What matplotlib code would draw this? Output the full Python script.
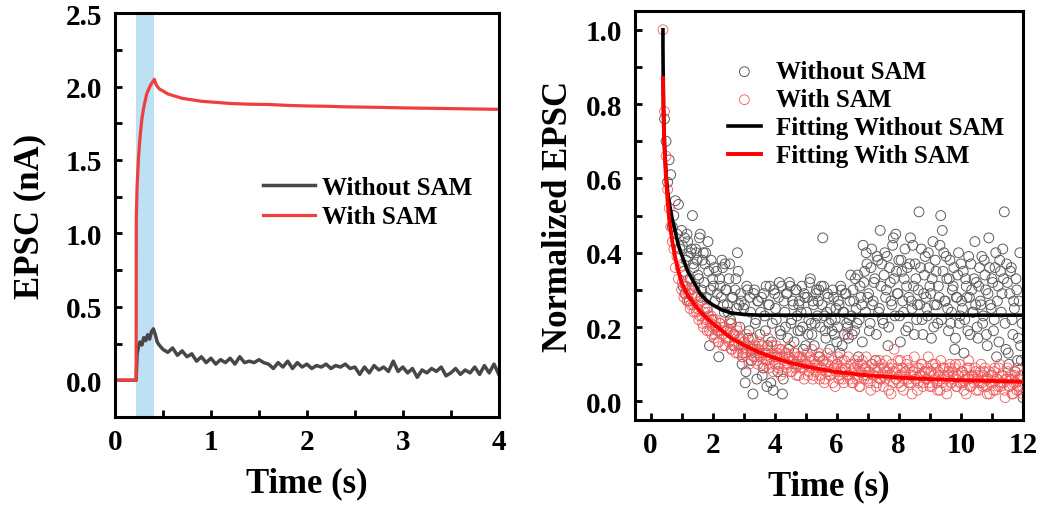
import numpy as np
import matplotlib
matplotlib.use("Agg")
import matplotlib.pyplot as plt
from matplotlib.ticker import MultipleLocator, FormatStrFormatter

plt.rcParams['font.family'] = ['Liberation Serif', 'DejaVu Serif']
plt.rcParams['font.weight'] = 'bold'

# ---- left panel: EPSC traces ----
red_t = [0.00, 0.22, 0.222, 0.23, 0.245, 0.26, 0.28, 0.30, 0.33, 0.37, 0.41, 0.43, 0.46,
         0.50, 0.55, 0.60, 0.70, 0.80, 0.90, 1.00, 1.20, 1.40, 1.60, 1.80, 2.00, 2.20,
         2.40, 2.60, 2.80, 3.00, 3.20, 3.40, 3.60, 3.80, 4.00]
red_v = [0.00, 0.00, 1.10, 1.32, 1.52, 1.65, 1.78, 1.86, 1.95, 2.01, 2.05, 2.01, 1.985,
         1.97, 1.95, 1.94, 1.92, 1.91, 1.90, 1.895, 1.885, 1.88, 1.878, 1.872, 1.868, 1.866,
         1.862, 1.860, 1.858, 1.855, 1.853, 1.851, 1.849, 1.847, 1.845]

gray_t = [0.00, 0.22, 0.23, 0.245, 0.26, 0.28, 0.30, 0.32, 0.34, 0.36, 0.38, 0.40, 0.42, 0.44, 0.46,
          0.50, 0.55, 0.60, 0.65, 0.70, 0.75, 0.80, 0.85, 0.90, 0.95,
          1.00, 1.05, 1.10, 1.15, 1.20, 1.25, 1.30, 1.35, 1.40, 1.45,
          1.50, 1.55, 1.60, 1.65, 1.70, 1.75, 1.80, 1.85, 1.90, 1.95,
          2.00, 2.05, 2.10, 2.15, 2.20, 2.25, 2.30, 2.35, 2.40, 2.45,
          2.50, 2.55, 2.60, 2.65, 2.70, 2.75, 2.80, 2.85, 2.90, 2.95,
          3.00, 3.05, 3.10, 3.15, 3.20, 3.25, 3.30, 3.35, 3.40, 3.45,
          3.50, 3.55, 3.60, 3.65, 3.70, 3.75, 3.80, 3.85, 3.90, 3.95, 4.00]
gray_v = [0.00, 0.00, 0.18, 0.23, 0.26, 0.24, 0.29, 0.27, 0.31, 0.28, 0.33, 0.35, 0.31, 0.26, 0.24,
          0.21, 0.19, 0.22, 0.17, 0.20, 0.16, 0.18, 0.13, 0.16, 0.12,
          0.15, 0.11, 0.14, 0.12, 0.15, 0.11, 0.16, 0.12, 0.13, 0.12,
          0.14, 0.12, 0.11, 0.08, 0.12, 0.09, 0.13, 0.08, 0.12, 0.09,
          0.11, 0.08, 0.10, 0.09, 0.11, 0.08, 0.10, 0.09, 0.11, 0.08,
          0.09, 0.04, 0.09, 0.05, 0.10, 0.07, 0.09, 0.06, 0.13, 0.06,
          0.09, 0.05, 0.08, 0.02, 0.07, 0.05, 0.08, 0.06, 0.09, 0.03,
          0.05, 0.08, 0.04, 0.07, 0.05, 0.09, 0.04, 0.10, 0.05, 0.11, 0.04]

pulse = (0.22, 0.41)

# ---- right panel: normalized EPSC ----
t_norm = [
    0.40, 0.45, 0.50, 0.55, 0.60, 0.65, 0.70, 0.75, 0.80, 0.85,
    0.90, 0.95, 1.00, 1.05, 1.10, 1.15, 1.20, 1.25, 1.30, 1.35,
    1.40, 1.45, 1.50, 1.55, 1.60, 1.65, 1.70, 1.75, 1.80, 1.85,
    1.90, 1.95, 2.00, 2.05, 2.10, 2.15, 2.20, 2.25, 2.30, 2.35,
    2.40, 2.45, 2.50, 2.55, 2.60, 2.65, 2.70, 2.75, 2.80, 2.85,
    2.90, 2.95, 3.00, 3.05, 3.10, 3.15, 3.20, 3.25, 3.30, 3.35,
    3.40, 3.45, 3.50, 3.55, 3.60, 3.65, 3.70, 3.75, 3.80, 3.85,
    3.90, 3.95, 4.00, 4.05, 4.10, 4.15, 4.20, 4.25, 4.30, 4.35,
    4.40, 4.45, 4.50, 4.55, 4.60, 4.65, 4.70, 4.75, 4.80, 4.85,
    4.90, 4.95, 5.00, 5.05, 5.10, 5.15, 5.20, 5.25, 5.30, 5.35,
    5.40, 5.45, 5.50, 5.55, 5.60, 5.65, 5.70, 5.75, 5.80, 5.85,
    5.90, 5.95, 6.00, 6.05, 6.10, 6.15, 6.20, 6.25, 6.30, 6.35,
    6.40, 6.45, 6.50, 6.55, 6.60, 6.65, 6.70, 6.75, 6.80, 6.85,
    6.90, 6.95, 7.00, 7.05, 7.10, 7.15, 7.20, 7.25, 7.30, 7.35,
    7.40, 7.45, 7.50, 7.55, 7.60, 7.65, 7.70, 7.75, 7.80, 7.85,
    7.90, 7.95, 8.00, 8.05, 8.10, 8.15, 8.20, 8.25, 8.30, 8.35,
    8.40, 8.45, 8.50, 8.55, 8.60, 8.65, 8.70, 8.75, 8.80, 8.85,
    8.90, 8.95, 9.00, 9.05, 9.10, 9.15, 9.20, 9.25, 9.30, 9.35,
    9.40, 9.45, 9.50, 9.55, 9.60, 9.65, 9.70, 9.75, 9.80, 9.85,
    9.90, 9.95, 10.00, 10.05, 10.10, 10.15, 10.20, 10.25, 10.30, 10.35,
    10.40, 10.45, 10.50, 10.55, 10.60, 10.65, 10.70, 10.75, 10.80, 10.85,
    10.90, 10.95, 11.00, 11.05, 11.10, 11.15, 11.20, 11.25, 11.30, 11.35,
    11.40, 11.45, 11.50, 11.55, 11.60, 11.65, 11.70, 11.75, 11.80, 11.85,
    11.90, 11.95, 12.00]

without_sam = [
    np.nan, 0.76, 0.70, 0.59, 0.65, 0.61, 0.47, 0.50, 0.54, 0.45,
    0.53, 0.41, 0.46, 0.31, 0.44, 0.38, 0.43, 0.27, 0.40, 0.50,
    0.36, 0.41, 0.38, 0.33, 0.45, 0.30, 0.40, 0.37, 0.28, 0.43,
    0.15, 0.38, 0.33, 0.36, 0.20, 0.29, 0.12, 0.31, 0.38, 0.26,
    0.37, 0.30, 0.24, 0.37, 0.21, 0.28, 0.18, 0.33, 0.40, 0.26,
    0.29, 0.10, 0.25, 0.05, 0.31, 0.17, 0.28, 0.11, 0.02, 0.30,
    0.22, 0.27, 0.13, 0.24, 0.07, 0.29, 0.19, 0.04, 0.26, 0.31,
    0.16, 0.03, 0.29, 0.22, 0.08, 0.32, 0.18, 0.02, 0.27, 0.20,
    0.29, 0.14, 0.31, 0.22, 0.26, 0.10, 0.30, 0.19, 0.27, 0.24,
    0.20, 0.29, 0.15, 0.28, 0.22, 0.33, 0.18, 0.26, 0.21, 0.30,
    0.27, 0.12, 0.31, 0.44, 0.23, 0.17, 0.29, 0.21, 0.25, 0.19,
    0.28, 0.22, 0.16, 0.27, 0.13, 0.30, 0.24, 0.18, 0.29, 0.20,
    0.22, 0.34, 0.18, 0.27, 0.33, 0.21, 0.12, 0.31, 0.26, 0.42,
    0.35, 0.40, 0.28, 0.19, 0.36, 0.26, 0.32, 0.11, 0.39, 0.24,
    0.46, 0.37, 0.21, 0.40, 0.30, 0.15, 0.36, 0.27, 0.42, 0.33,
    0.45, 0.29, 0.38, 0.16, 0.35, 0.24, 0.41, 0.31, 0.20, 0.37,
    0.27, 0.42, 0.18, 0.33, 0.26, 0.51, 0.36, 0.22, 0.29, 0.39,
    0.25, 0.40, 0.31, 0.17, 0.43, 0.26, 0.35, 0.21, 0.28, 0.50,
    0.46, 0.40, 0.27, 0.33, 0.19, 0.38, 0.24, 0.31, 0.14, 0.28,
    0.34, 0.21, 0.37, 0.25, 0.13, 0.33, 0.28, 0.39, 0.18, 0.30,
    0.24, 0.43, 0.32, 0.17, 0.36, 0.26, 0.21, 0.38, 0.30, 0.15,
    0.44, 0.26, 0.33, 0.19, 0.36, 0.12, 0.31, 0.38, 0.24, 0.41,
    0.51, 0.14, 0.32, 0.10, 0.35, 0.22, 0.27, 0.08, 0.30, 0.17,
    0.40, 0.11, 0.01]

with_sam = [
    1.00, 0.78, 0.66, 0.57, 0.52, 0.47, 0.43, 0.41, 0.36, 0.39,
    0.33, 0.36, 0.30, 0.34, 0.29, 0.31, 0.27, 0.30, 0.26, 0.29,
    0.24, 0.28, 0.25, 0.22, 0.27, 0.23, 0.20, 0.25, 0.21, 0.24,
    0.19, 0.23, 0.20, 0.17, 0.22, 0.19, 0.16, 0.21, 0.18, 0.20,
    0.15, 0.19, 0.17, 0.21, 0.14, 0.18, 0.16, 0.13, 0.19, 0.15,
    0.17, 0.12, 0.16, 0.14, 0.18, 0.11, 0.15, 0.13, 0.17, 0.12,
    0.14, 0.10, 0.16, 0.12, 0.15, 0.09, 0.13, 0.11, 0.17, 0.10,
    0.13, 0.08, 0.12, 0.15, 0.10, 0.14, 0.07, 0.12, 0.10, 0.13,
    0.09, 0.12, 0.15, 0.08, 0.11, 0.13, 0.07, 0.10, 0.12, 0.09,
    0.11, 0.06, 0.10, 0.13, 0.08, 0.11, 0.14, 0.07, 0.10, 0.09,
    0.12, 0.06, 0.09, 0.11, 0.05, 0.10, 0.13, 0.08, 0.07, 0.11,
    0.09, 0.04, 0.10, 0.12, 0.07, 0.09, 0.06, 0.11, 0.08, 0.18,
    0.07, 0.10, 0.05, 0.09, 0.11, 0.06, 0.08, 0.04, 0.10, 0.07,
    0.09, 0.12, 0.06, 0.08, 0.03, 0.10, 0.07, 0.11, 0.05, 0.09,
    0.06, 0.10, 0.04, 0.08, 0.11, 0.07, 0.09, 0.02, 0.08, 0.14,
    0.06, 0.09, 0.05, 0.11, 0.07, 0.03, 0.08, 0.10, 0.06, 0.09,
    0.05, 0.08, 0.12, 0.06, 0.03, 0.09, 0.07, 0.10, 0.05, 0.08,
    0.06, 0.12, 0.04, 0.08, 0.10, 0.06, 0.09, 0.03, 0.07, 0.11,
    0.05, 0.09, 0.06, 0.02, 0.08, 0.10, 0.05, 0.07, 0.09, 0.04,
    0.07, 0.10, 0.05, 0.08, 0.03, 0.06, 0.09, 0.11, 0.04, 0.07,
    0.06, 0.09, 0.03, 0.07, 0.05, 0.10, 0.04, 0.08, 0.06, 0.02,
    0.08, 0.05, 0.07, 0.03, 0.09, 0.06, 0.04, 0.10, 0.05, 0.07,
    0.03, 0.06, 0.09, 0.04, 0.07, 0.02, 0.05, 0.08, 0.03, 0.06,
    0.04, 0.07, 0.02]

# second, interleaved batch of sampled points (1.0 s onward)
t_norm_b = [
    1.025, 1.075, 1.125, 1.175, 1.225, 1.275, 1.325, 1.375, 1.425, 1.475,
    1.525, 1.575, 1.625, 1.675, 1.725, 1.775, 1.825, 1.875, 1.925, 1.975,
    2.025, 2.075, 2.125, 2.175, 2.225, 2.275, 2.325, 2.375, 2.425, 2.475,
    2.525, 2.575, 2.625, 2.675, 2.725, 2.775, 2.825, 2.875, 2.925, 2.975,
    3.025, 3.075, 3.125, 3.175, 3.225, 3.275, 3.325, 3.375, 3.425, 3.475,
    3.525, 3.575, 3.625, 3.675, 3.725, 3.775, 3.825, 3.875, 3.925, 3.975,
    4.025, 4.075, 4.125, 4.175, 4.225, 4.275, 4.325, 4.375, 4.425, 4.475,
    4.525, 4.575, 4.625, 4.675, 4.725, 4.775, 4.825, 4.875, 4.925, 4.975,
    5.025, 5.075, 5.125, 5.175, 5.225, 5.275, 5.325, 5.375, 5.425, 5.475,
    5.525, 5.575, 5.625, 5.675, 5.725, 5.775, 5.825, 5.875, 5.925, 5.975,
    6.025, 6.075, 6.125, 6.175, 6.225, 6.275, 6.325, 6.375, 6.425, 6.475,
    6.525, 6.575, 6.625, 6.675, 6.725, 6.775, 6.825, 6.875, 6.925, 6.975,
    7.025, 7.075, 7.125, 7.175, 7.225, 7.275, 7.325, 7.375, 7.425, 7.475,
    7.525, 7.575, 7.625, 7.675, 7.725, 7.775, 7.825, 7.875, 7.925, 7.975,
    8.025, 8.075, 8.125, 8.175, 8.225, 8.275, 8.325, 8.375, 8.425, 8.475,
    8.525, 8.575, 8.625, 8.675, 8.725, 8.775, 8.825, 8.875, 8.925, 8.975,
    9.025, 9.075, 9.125, 9.175, 9.225, 9.275, 9.325, 9.375, 9.425, 9.475,
    9.525, 9.575, 9.625, 9.675, 9.725, 9.775, 9.825, 9.875, 9.925, 9.975,
    10.025, 10.075, 10.125, 10.175, 10.225, 10.275, 10.325, 10.375, 10.425, 10.475,
    10.525, 10.575, 10.625, 10.675, 10.725, 10.775, 10.825, 10.875, 10.925, 10.975,
    11.025, 11.075, 11.125, 11.175, 11.225, 11.275, 11.325, 11.375, 11.425, 11.475,
    11.525, 11.575, 11.625, 11.675, 11.725, 11.775, 11.825, 11.875, 11.925, 11.975]

without_sam_b = [
    0.42, 0.35, 0.29, 0.45, 0.39, 0.33, 0.41, 0.37, 0.31, 0.40,
    0.34, 0.44, 0.28, 0.38, 0.32, 0.40, 0.25, 0.35, 0.30, 0.22,
    0.31, 0.27, 0.35, 0.19, 0.33, 0.28, 0.36, 0.24, 0.30, 0.26,
    0.33, 0.22, 0.28, 0.15, 0.30, 0.25, 0.35, 0.20, 0.27, 0.13,
    0.26, 0.08, 0.30, 0.19, 0.24, 0.14, 0.29, 0.21, 0.06, 0.27,
    0.18, 0.28, 0.09, 0.23, 0.31, 0.15, 0.26, 0.05, 0.21, 0.30,
    0.25, 0.12, 0.28, 0.19, 0.31, 0.06, 0.24, 0.29, 0.17, 0.32,
    0.21, 0.27, 0.16, 0.30, 0.23, 0.26, 0.19, 0.31, 0.14, 0.28,
    0.24, 0.18, 0.32, 0.21, 0.27, 0.15, 0.29, 0.23, 0.30, 0.20,
    0.26, 0.31, 0.19, 0.24, 0.28, 0.14, 0.22, 0.30, 0.18, 0.25,
    0.20, 0.26, 0.31, 0.15, 0.24, 0.29, 0.21, 0.17, 0.27, 0.23,
    0.30, 0.19, 0.25, 0.34, 0.22, 0.28, 0.16, 0.32, 0.24, 0.37,
    0.29, 0.21, 0.41, 0.27, 0.33, 0.18, 0.38, 0.25, 0.31, 0.22,
    0.34, 0.28, 0.39, 0.20, 0.32, 0.26, 0.44, 0.23, 0.35, 0.29,
    0.23, 0.38, 0.27, 0.33, 0.19, 0.36, 0.28, 0.44, 0.25, 0.31,
    0.37, 0.22, 0.30, 0.26, 0.41, 0.18, 0.34, 0.28, 0.23, 0.36,
    0.29, 0.33, 0.20, 0.38, 0.26, 0.31, 0.42, 0.22, 0.35, 0.27,
    0.39, 0.25, 0.33, 0.21, 0.30, 0.36, 0.17, 0.28, 0.40, 0.23,
    0.27, 0.35, 0.22, 0.31, 0.19, 0.28, 0.37, 0.24, 0.33, 0.26,
    0.20, 0.31, 0.27, 0.39, 0.23, 0.34, 0.18, 0.29, 0.36, 0.25,
    0.32, 0.22, 0.40, 0.27, 0.16, 0.35, 0.29, 0.33, 0.21, 0.37,
    0.13, 0.29, 0.36, 0.18, 0.25, 0.33, 0.11, 0.27, 0.15, 0.21]

with_sam_b = [
    0.32, 0.28, 0.31, 0.27, 0.29, 0.25, 0.30, 0.26, 0.28, 0.24,
    0.26, 0.23, 0.27, 0.21, 0.24, 0.22, 0.19, 0.23, 0.21, 0.18,
    0.22, 0.18, 0.20, 0.16, 0.21, 0.19, 0.15, 0.20, 0.17, 0.19,
    0.16, 0.19, 0.14, 0.18, 0.15, 0.20, 0.13, 0.17, 0.15, 0.12,
    0.16, 0.13, 0.15, 0.10, 0.14, 0.17, 0.12, 0.15, 0.11, 0.14,
    0.12, 0.15, 0.10, 0.13, 0.11, 0.14, 0.09, 0.12, 0.15, 0.11,
    0.10, 0.13, 0.09, 0.12, 0.14, 0.08, 0.11, 0.13, 0.10, 0.12,
    0.08, 0.11, 0.13, 0.09, 0.12, 0.07, 0.10, 0.12, 0.09, 0.11,
    0.10, 0.07, 0.12, 0.09, 0.06, 0.11, 0.08, 0.10, 0.13, 0.07,
    0.09, 0.11, 0.06, 0.08, 0.10, 0.07, 0.12, 0.05, 0.09, 0.08,
    0.10, 0.06, 0.08, 0.11, 0.05, 0.09, 0.07, 0.12, 0.06, 0.08,
    0.05, 0.09, 0.07, 0.10, 0.04, 0.08, 0.11, 0.06, 0.09, 0.07,
    0.08, 0.05, 0.10, 0.07, 0.09, 0.04, 0.08, 0.11, 0.06, 0.07,
    0.09, 0.06, 0.08, 0.03, 0.07, 0.10, 0.05, 0.08, 0.06, 0.11,
    0.07, 0.04, 0.09, 0.06, 0.08, 0.11, 0.05, 0.07, 0.02, 0.08,
    0.06, 0.09, 0.05, 0.07, 0.10, 0.04, 0.08, 0.06, 0.09, 0.05,
    0.08, 0.04, 0.07, 0.10, 0.05, 0.08, 0.03, 0.06, 0.09, 0.07,
    0.04, 0.07, 0.09, 0.05, 0.08, 0.06, 0.10, 0.04, 0.07, 0.05,
    0.08, 0.05, 0.07, 0.02, 0.06, 0.09, 0.04, 0.07, 0.05, 0.08,
    0.06, 0.03, 0.08, 0.05, 0.07, 0.09, 0.04, 0.06, 0.02, 0.07,
    0.05, 0.08, 0.03, 0.06, 0.09, 0.04, 0.07, 0.05, 0.01, 0.06,
    0.08, 0.04, 0.06, 0.02, 0.07, 0.05, 0.09, 0.03, 0.06, 0.04]

fit_wo_t = [0.40, 0.40, 0.405, 0.42, 0.45, 0.50, 0.55, 0.60, 0.70, 0.80, 0.90, 1.00, 1.20, 1.40,
            1.60, 1.80, 2.00, 2.30, 2.60, 3.00, 3.50, 4.00, 6.00, 8.00, 10.00, 12.00]
fit_wo_v = [1.00, 0.95, 0.90, 0.78, 0.69, 0.61, 0.565, 0.535, 0.49, 0.455, 0.42, 0.395, 0.35, 0.32,
            0.29, 0.272, 0.26, 0.246, 0.238, 0.234, 0.232, 0.232, 0.232, 0.232, 0.232, 0.232]
fit_w_t = [0.40, 0.42, 0.45, 0.50, 0.55, 0.60, 0.70, 0.80, 0.90, 1.00, 1.20, 1.40, 1.60, 1.80, 2.00,
           2.30, 2.60, 3.00, 3.50, 4.00, 4.50, 5.00, 5.50, 6.00, 7.00, 8.00, 9.00, 10.00, 11.00, 12.00]
fit_w_v = [0.87, 0.76, 0.68, 0.60, 0.54, 0.49, 0.43, 0.385, 0.35, 0.32, 0.285, 0.262, 0.242, 0.225, 0.21,
           0.19, 0.17, 0.152, 0.132, 0.117, 0.104, 0.094, 0.086, 0.079, 0.070, 0.064, 0.060, 0.057, 0.055, 0.053]

fig = plt.figure(figsize=(10.4, 5.06), dpi=100)
ax1 = fig.add_axes([0.1106, 0.174, 0.369, 0.798])
ax2 = fig.add_axes([0.6106, 0.168, 0.373, 0.808])

ax1.axvspan(pulse[0], pulse[1], color='#bde0f5', lw=0, zorder=0)
ax1.plot(gray_t, gray_v, color='#474747', lw=2.5, label='Without SAM')
ax1.plot(red_t, red_v, color='#ee3e3e', lw=2.3, label='With SAM')
ax1.set_xlim(0, 4)
ax1.set_ylim(-0.25, 2.5)
ax1.xaxis.set_major_locator(MultipleLocator(1))
ax1.xaxis.set_minor_locator(MultipleLocator(0.5))
ax1.yaxis.set_major_locator(MultipleLocator(0.5))
ax1.yaxis.set_minor_locator(MultipleLocator(0.25))
ax1.yaxis.set_major_formatter(FormatStrFormatter('%.1f'))
ax1.set_xlabel('Time (s)', fontsize=25, fontweight='bold', labelpad=8)
ax1.set_ylabel('EPSC (nA)', fontsize=25, fontweight='bold', labelpad=14)
ax1.legend(loc='center left', bbox_to_anchor=(0.385, 0.532), frameon=False,
           prop={'size': 18, 'weight': 'bold'}, handlelength=2.1,
           handletextpad=0.25, labelspacing=0.25, borderpad=0, borderaxespad=0)

ax2.scatter(t_norm, without_sam, s=50, facecolors='none', edgecolors='#5c5c5c',
            linewidths=0.7, label='Without SAM', zorder=2)
ax2.scatter(t_norm_b, without_sam_b, s=50, facecolors='none', edgecolors='#5c5c5c',
            linewidths=0.7, zorder=2)
ax2.scatter(t_norm, with_sam, s=50, facecolors='none', edgecolors='#f05a5a',
            linewidths=0.6, label='With SAM', zorder=3)
ax2.scatter(t_norm_b, with_sam_b, s=50, facecolors='none', edgecolors='#f05a5a',
            linewidths=0.6, zorder=3)
ax2.plot(fit_wo_t, fit_wo_v, color='black', lw=2.6, label='Fitting Without SAM', zorder=4)
ax2.plot(fit_w_t, fit_w_v, color='#ff0000', lw=2.8, label='Fitting With SAM', zorder=5)
ax2.set_xlim(-0.5, 12)
ax2.set_ylim(-0.05, 1.05)
ax2.xaxis.set_major_locator(MultipleLocator(2))
ax2.xaxis.set_minor_locator(MultipleLocator(1))
ax2.yaxis.set_major_locator(MultipleLocator(0.2))
ax2.yaxis.set_minor_locator(MultipleLocator(0.1))
ax2.yaxis.set_major_formatter(FormatStrFormatter('%.1f'))
ax2.set_xlabel('Time (s)', fontsize=25, fontweight='bold', labelpad=8)
ax2.set_ylabel('Normalized EPSC', fontsize=25, fontweight='bold', labelpad=8)
ax2.legend(loc='center left', bbox_to_anchor=(0.24, 0.749), frameon=False,
           prop={'size': 18, 'weight': 'bold'}, handlelength=1.3,
           handletextpad=0.6, labelspacing=0.2, borderpad=0, borderaxespad=0)

for ax in (ax1, ax2):
    for sp in ax.spines.values():
        sp.set_linewidth(2.2)
    ax.tick_params(which='both', direction='in', length=5, width=2,
                   top=False, right=False, labelsize=21)
    ax.tick_params(axis='x', pad=8)
    ax.tick_params(axis='y', pad=9)
    for lab in ax.get_xticklabels() + ax.get_yticklabels():
        lab.set_fontweight('bold')

fig.savefig('out.png', dpi=100)
